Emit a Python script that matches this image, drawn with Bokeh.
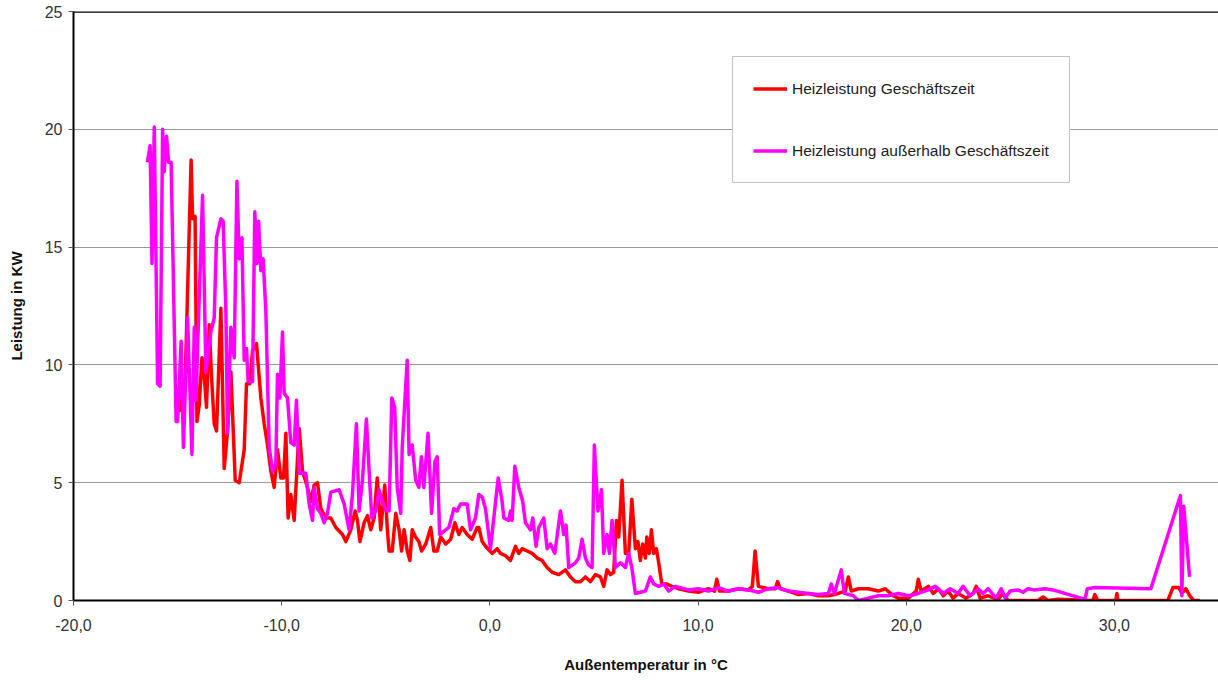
from bokeh.plotting import figure
from bokeh.models import Legend, LegendItem, Span, FixedTicker
from bokeh.embed import file_html
from bokeh.resources import INLINE

# ---- data (outside temperature in °C, heating power in kW) ----
temp_business = [
    -14.92, -14.63, -14.35, -14.28, -14.16, -14.07, -13.96, -13.83, -13.72, -13.61,
    -13.48, -13.37, -13.24, -13.13, -12.92, -12.76, -12.60, -12.44, -12.23, -12.04,
    -11.80, -11.69, -11.53, -11.40, -11.21, -11.00, -10.84, -10.68, -10.52, -10.36,
    -10.20, -10.04, -9.91, -9.80, -9.69, -9.56, -9.40, -9.16, -9.00, -8.76,
    -8.60, -8.44, -8.28, -8.12, -7.88, -7.64, -7.40, -7.08, -6.92, -6.68,
    -6.47, -6.36, -6.24, -6.04, -5.88, -5.72, -5.56, -5.41, -5.24, -5.05,
    -4.93, -4.84, -4.69, -4.52, -4.36, -4.24, -4.12, -3.97, -3.84, -3.73,
    -3.57, -3.41, -3.28, -3.08, -2.84, -2.69, -2.53, -2.36, -2.12, -1.88,
    -1.68, -1.49, -1.33, -1.09, -0.85, -0.61, -0.53, -0.37, -0.21, 0.11,
    0.35, 0.51, 0.75, 0.99, 1.23, 1.39, 1.55, 1.79, 2.03, 2.27,
    2.51, 2.75, 2.99, 3.31, 3.63, 3.87, 4.11, 4.35, 4.59, 4.83,
    5.07, 5.31, 5.47, 5.63, 5.79, 5.95, 6.08, 6.19, 6.35, 6.51,
    6.67, 6.82, 6.99, 7.11, 7.23, 7.34, 7.47, 7.54, 7.66, 7.76,
    7.87, 8.00, 8.11, 8.26, 8.50, 8.74, 9.06, 9.54, 10.02, 10.50,
    10.79, 10.90, 11.03, 11.46, 11.94, 12.42, 12.61, 12.74, 12.90, 13.38,
    13.71, 13.82, 13.95, 14.34, 14.82, 15.30, 15.78, 16.26, 16.74, 17.07,
    17.22, 17.36, 17.70, 18.18, 18.66, 18.99, 19.38, 19.62, 20.10, 20.48,
    20.58, 20.72, 21.06, 21.30, 21.54, 21.78, 22.01, 22.25, 22.49, 22.88,
    23.21, 23.36, 23.55, 23.93, 24.41, 24.65, 24.89, 26.33, 26.57, 26.81,
    27.29, 28.97, 29.06, 29.21, 30.07, 30.12, 30.17, 32.57, 32.81, 33.09,
    33.24, 33.43, 33.62, 33.81, 34.10,
]
power_business = [
    8.0, 9.5, 18.7, 16.2, 16.3, 7.6, 8.3, 10.3, 9.5, 8.2,
    11.7, 9.5, 7.5, 7.2, 12.4, 5.6, 7.2, 9.7, 5.1, 5.0,
    6.4, 9.2, 9.2, 10.6, 10.9, 8.6, 7.5, 6.6, 5.5, 4.8,
    6.4, 5.2, 5.2, 7.1, 3.5, 4.5, 3.4, 7.3, 5.5, 4.8,
    4.2, 4.9, 5.0, 3.9, 3.5, 3.5, 3.1, 2.8, 2.5, 3.0,
    3.8, 3.4, 2.5, 3.3, 3.6, 3.0, 3.5, 5.2, 3.0, 4.9,
    3.1, 2.1, 2.1, 3.7, 3.0, 2.1, 3.0, 2.1, 1.7, 3.0,
    2.7, 2.5, 2.1, 2.4, 3.1, 2.1, 2.1, 2.7, 2.4, 2.6,
    3.3, 2.8, 3.1, 2.8, 2.6, 3.1, 3.1, 2.5, 2.3, 2.0,
    2.2, 2.0, 1.9, 1.7, 2.3, 2.0, 2.2, 2.1, 2.0, 1.8,
    1.7, 1.4, 1.2, 1.1, 1.3, 1.0, 0.8, 0.8, 1.0, 0.8,
    1.1, 1.0, 0.6, 1.3, 1.1, 1.2, 3.4, 2.7, 5.1, 2.0,
    2.0, 4.3, 2.2, 2.5, 1.7, 2.4, 1.8, 2.7, 2.0, 3.0,
    2.0, 2.2, 1.6, 0.7, 0.7, 0.6, 0.5, 0.4, 0.35, 0.5,
    0.4, 0.9, 0.4, 0.4, 0.5, 0.45, 0.6, 2.1, 0.6, 0.5,
    0.5, 0.8, 0.5, 0.4, 0.25, 0.3, 0.2, 0.2, 0.3, 0.4,
    1.0, 0.4, 0.5, 0.5, 0.4, 0.5, 0.2, 0.1, 0.1, 0.4,
    0.9, 0.4, 0.6, 0.3, 0.5, 0.2, 0.4, 0.1, 0.3, 0.1,
    0.3, 0.6, 0.1, 0.2, 0.05, 0.3, 0.0, 0.0, 0.15, 0.0,
    0.05, 0.0, 0.25, 0.0, 0.0, 0.3, 0.0, 0.0, 0.55, 0.55,
    0.3, 0.5, 0.2, 0.0, 0.0,
]

temp_outside = [
    -16.45, -16.32, -16.23, -16.12, -15.96, -15.84, -15.72, -15.64, -15.53, -15.43,
    -15.31, -15.07, -15.00, -14.83, -14.72, -14.52, -14.31, -14.20, -14.12, -13.80,
    -13.64, -13.40, -13.24, -13.13, -12.92, -12.81, -12.68, -12.60, -12.44, -12.28,
    -12.15, -12.04, -11.91, -11.80, -11.69, -11.61, -11.40, -11.29, -11.19, -11.11,
    -11.00, -10.89, -10.76, -10.60, -10.44, -10.28, -10.20, -10.09, -9.96, -9.88,
    -9.72, -9.56, -9.40, -9.29, -9.16, -8.84, -8.68, -8.52, -8.44, -8.28,
    -8.12, -7.96, -7.80, -7.64, -7.24, -7.00, -6.76, -6.60, -6.41, -6.28,
    -6.12, -5.93, -5.80, -5.67, -5.48, -5.32, -5.17, -4.97, -4.84, -4.71,
    -4.57, -4.45, -4.28, -4.21, -3.97, -3.88, -3.73, -3.56, -3.41, -3.29,
    -3.17, -2.97, -2.80, -2.64, -2.53, -2.41, -2.12, -1.97, -1.73, -1.57,
    -1.41, -1.09, -0.93, -0.69, -0.53, -0.37, -0.21, 0.03, 0.19, 0.40,
    0.59, 0.67, 0.91, 0.99, 1.07, 1.20, 1.39, 1.58, 1.71, 1.95,
    2.06, 2.22, 2.35, 2.59, 2.75, 2.91, 3.12, 3.39, 3.55, 3.66,
    3.79, 4.11, 4.27, 4.43, 4.59, 4.75, 4.91, 5.02, 5.19, 5.36,
    5.47, 5.63, 5.74, 5.87, 6.03, 6.27, 6.51, 6.67, 6.82, 6.99,
    7.47, 7.71, 7.87, 8.11, 8.35, 8.59, 8.91, 9.54, 10.02, 10.50,
    10.98, 11.46, 11.94, 12.42, 12.90, 13.38, 13.86, 14.34, 14.82, 15.30,
    15.78, 16.26, 16.40, 16.55, 16.88, 17.03, 17.46, 17.70, 18.18, 18.66,
    19.14, 19.62, 20.10, 20.58, 21.06, 21.39, 21.78, 22.11, 22.49, 22.73,
    23.07, 23.45, 23.69, 23.93, 24.32, 24.56, 24.75, 24.99, 25.37, 25.61,
    25.85, 26.14, 26.67, 27.05, 28.59, 28.70, 29.06, 31.75, 33.17, 33.24,
    33.33, 33.61,
]
power_outside = [
    18.6, 19.3, 14.3, 20.1, 9.2, 9.1, 20.0, 18.2, 19.7, 18.6,
    18.6, 7.6, 7.6, 11.0, 6.5, 12.0, 6.2, 11.6, 8.5, 17.2,
    9.7, 11.4, 12.0, 15.4, 16.2, 16.1, 12.3, 7.1, 11.6, 10.3,
    17.8, 14.5, 15.4, 10.2, 10.7, 9.3, 9.3, 16.5, 14.3, 16.1,
    14.0, 14.5, 12.3, 6.5, 5.5, 5.8, 9.6, 8.6, 11.4, 8.8,
    8.6, 6.7, 6.6, 8.5, 5.4, 5.4, 4.1, 3.4, 4.8, 3.9,
    3.7, 3.3, 3.7, 4.6, 4.7, 4.1, 3.0, 4.5, 7.5, 3.8,
    5.1, 7.7, 5.5, 3.5, 3.8, 4.7, 4.2, 3.8, 3.8, 8.6,
    8.2, 4.8, 3.7, 6.5, 10.2, 6.2, 6.6, 5.1, 4.8, 6.1,
    4.8, 7.1, 3.7, 5.9, 6.1, 2.8, 3.0, 3.1, 3.9, 3.8,
    4.1, 4.1, 3.0, 3.5, 4.5, 4.4, 3.9, 2.2, 3.5, 5.2,
    4.2, 3.5, 3.4, 3.8, 3.4, 5.7, 4.8, 4.2, 3.3, 3.0,
    3.5, 2.3, 3.1, 3.5, 2.2, 2.4, 2.0, 3.8, 2.8, 3.2,
    1.4, 1.6, 1.8, 2.6, 1.8, 1.5, 1.4, 6.6, 3.8, 4.7,
    2.0, 2.8, 2.0, 3.4, 1.4, 1.6, 1.4, 2.0, 1.4, 0.3,
    0.4, 1.0, 0.7, 0.6, 0.7, 0.4, 0.6, 0.45, 0.5, 0.4,
    0.55, 0.4, 0.5, 0.45, 0.35, 0.5, 0.55, 0.4, 0.35, 0.3,
    0.25, 0.3, 0.7, 0.3, 1.3, 0.3, 0.2, 0.0, 0.1, 0.2,
    0.2, 0.3, 0.2, 0.3, 0.45, 0.6, 0.3, 0.5, 0.3, 0.6,
    0.2, 0.5, 0.3, 0.5, 0.1, 0.5, 0.1, 0.4, 0.45, 0.35,
    0.5, 0.45, 0.5, 0.45, 0.05, 0.5, 0.55, 0.5, 4.45, 0.2,
    4.0, 1.0,
]

series_names = ["Heizleistung Geschäftszeit", "Heizleistung außerhalb Geschäftszeit"]
x_ticks = [-20, -10, 0, 10, 20, 30]
x_tick_labels = ["-20,0", "-10,0", "0,0", "10,0", "20,0", "30,0"]
y_ticks = [0, 5, 10, 15, 20, 25]
y_tick_labels = ["0", "5", "10", "15", "20", "25"]
x_title = "Außentemperatur in °C"
y_title = "Leistung in KW"

FONT = "Liberation Sans"

p = figure(width=1218, height=680, x_range=(-20, 35), y_range=(0, 25),
           output_backend="svg", toolbar_location=None,
           min_border_left=73, min_border_right=0, min_border_top=11,
           min_border_bottom=80)
p.outline_line_color = None
p.background_fill_color = "white"
p.border_fill_color = "white"

r1 = p.line(temp_business, power_business, line_color="#FF0000", line_width=3.5,
            line_join="round")
r2 = p.line(temp_outside, power_outside, line_color="#FF00FF", line_width=3.5,
            line_join="round")

# axes
p.xaxis.ticker = FixedTicker(ticks=x_ticks)
p.xaxis.major_label_overrides = {t: lab for t, lab in zip(x_ticks, x_tick_labels)}
p.yaxis.ticker = FixedTicker(ticks=y_ticks)
p.yaxis.major_label_overrides = {t: lab for t, lab in zip(y_ticks, y_tick_labels)}

for ax in (p.xaxis[0], p.yaxis[0]):
    ax.axis_line_color = "black"
    ax.axis_line_width = 2
    ax.major_tick_line_color = "#555555"
    ax.major_tick_in = 0
    ax.major_tick_out = 5
    ax.minor_tick_line_color = None
    ax.major_label_text_font = FONT
    ax.major_label_text_font_size = "16px"
    ax.major_label_text_color = "#333333"
    ax.axis_label_text_font = FONT
    ax.axis_label_text_font_size = "15px"
    ax.axis_label_text_font_style = "bold"
    ax.axis_label_text_color = "#111111"

p.xaxis.axis_label = x_title
p.yaxis.axis_label = y_title
p.xaxis.major_label_standoff = 13
p.xaxis.axis_label_standoff = 22
p.yaxis.major_label_standoff = 6
p.yaxis.axis_label_standoff = 17

p.xgrid.grid_line_color = None
p.ygrid.grid_line_color = "#999999"
p.ygrid.grid_line_width = 1.2

top_line = Span(location=25, dimension="width", line_color="black", line_width=2.5)
p.add_layout(top_line)

legend = Legend(items=[LegendItem(label=series_names[0], renderers=[r1]),
                       LegendItem(label=series_names[1], renderers=[r2])],
                location=(659, 417))
legend.padding = 20
legend.margin = 0
legend.spacing = 39
legend.label_height = 23
legend.glyph_height = 23
legend.glyph_width = 34
legend.label_standoff = 5
legend.label_text_font = FONT
legend.label_text_font_size = "15.5px"
legend.label_text_color = "#222222"
legend.border_line_color = "#888888"
legend.border_line_width = 1
legend.background_fill_color = "white"
legend.background_fill_alpha = 1.0
p.add_layout(legend)

open("out.html", "w").write(file_html(p, INLINE))
